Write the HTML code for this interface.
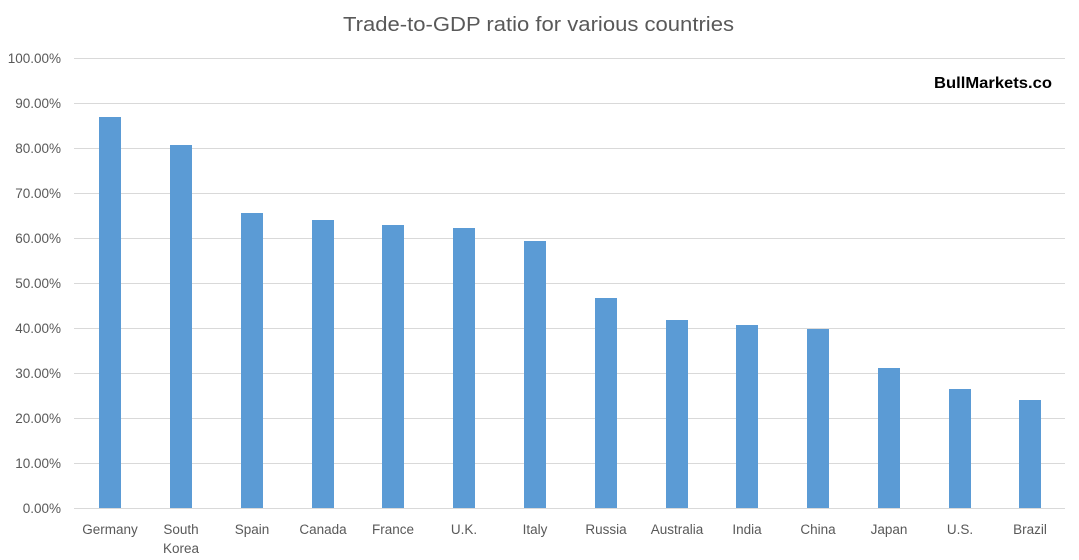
<!DOCTYPE html>
<html>
<head>
<meta charset="utf-8">
<style>
  html, body { margin: 0; padding: 0; background: #ffffff; }
  body { width: 1079px; height: 560px; overflow: hidden; }
  svg { display: block; }
  text { font-family: "Liberation Sans", "DejaVu Sans", sans-serif; }
</style>
</head>
<body>
<svg width="1079" height="560" viewBox="0 0 1079 560" xmlns="http://www.w3.org/2000/svg">
  <rect x="0" y="0" width="1079" height="560" fill="#ffffff"/>

  <!-- Title -->
  <text x="343" y="31" font-size="20" fill="#595959" textLength="391" lengthAdjust="spacingAndGlyphs">Trade-to-GDP ratio for various countries</text>

  <!-- Gridlines -->
  <g stroke="#d9d9d9" stroke-width="1" shape-rendering="crispEdges">
    <line x1="74" y1="58.5" x2="1065" y2="58.5"/>
    <line x1="74" y1="103.5" x2="1065" y2="103.5"/>
    <line x1="74" y1="148.5" x2="1065" y2="148.5"/>
    <line x1="74" y1="193.5" x2="1065" y2="193.5"/>
    <line x1="74" y1="238.5" x2="1065" y2="238.5"/>
    <line x1="74" y1="283.5" x2="1065" y2="283.5"/>
    <line x1="74" y1="328.5" x2="1065" y2="328.5"/>
    <line x1="74" y1="373.5" x2="1065" y2="373.5"/>
    <line x1="74" y1="418.5" x2="1065" y2="418.5"/>
    <line x1="74" y1="463.5" x2="1065" y2="463.5"/>
    <line x1="74" y1="508.5" x2="1065" y2="508.5"/>
  </g>

  <!-- Y axis labels -->
  <g font-size="13.5" fill="#595959" text-anchor="end">
    <text x="61" y="63">100.00%</text>
    <text x="61" y="108">90.00%</text>
    <text x="61" y="153">80.00%</text>
    <text x="61" y="198">70.00%</text>
    <text x="61" y="243">60.00%</text>
    <text x="61" y="288">50.00%</text>
    <text x="61" y="333">40.00%</text>
    <text x="61" y="378">30.00%</text>
    <text x="61" y="423">20.00%</text>
    <text x="61" y="468">10.00%</text>
    <text x="61" y="513">0.00%</text>
  </g>

  <!-- Bars -->
  <g fill="#5b9bd5" shape-rendering="crispEdges">
    <rect x="99" y="117" width="22" height="391"/>
    <rect x="170" y="145" width="22" height="363"/>
    <rect x="241" y="213" width="22" height="295"/>
    <rect x="312" y="220" width="22" height="288"/>
    <rect x="382" y="225" width="22" height="283"/>
    <rect x="453" y="228" width="22" height="280"/>
    <rect x="524" y="241" width="22" height="267"/>
    <rect x="595" y="298" width="22" height="210"/>
    <rect x="666" y="320" width="22" height="188"/>
    <rect x="736" y="325" width="22" height="183"/>
    <rect x="807" y="329" width="22" height="179"/>
    <rect x="878" y="368" width="22" height="140"/>
    <rect x="949" y="389" width="22" height="119"/>
    <rect x="1019" y="400" width="22" height="108"/>
  </g>

  <!-- X axis labels -->
  <g font-size="13.5" fill="#595959" text-anchor="middle">
    <text x="110" y="534">Germany</text>
    <text x="181" y="534">South</text>
    <text x="181" y="553">Korea</text>
    <text x="252" y="534">Spain</text>
    <text x="323" y="534">Canada</text>
    <text x="393" y="534">France</text>
    <text x="464" y="534">U.K.</text>
    <text x="535" y="534">Italy</text>
    <text x="606" y="534">Russia</text>
    <text x="677" y="534">Australia</text>
    <text x="747" y="534">India</text>
    <text x="818" y="534">China</text>
    <text x="889" y="534">Japan</text>
    <text x="960" y="534">U.S.</text>
    <text x="1030" y="534">Brazil</text>
  </g>

  <!-- Watermark -->
  <text x="934" y="88" font-size="16" font-weight="bold" fill="#000000" textLength="118" lengthAdjust="spacingAndGlyphs">BullMarkets.co</text>
</svg>
</body>
</html>
